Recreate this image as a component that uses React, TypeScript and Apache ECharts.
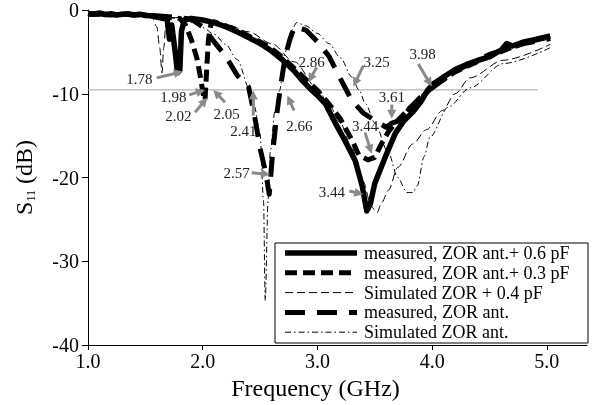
import React, { useEffect, useRef } from "react";
import * as echarts from "echarts";

const FONT = '"Liberation Serif", "Times New Roman", Times, serif';

const seriesNames = [
  "measured, ZOR ant.+ 0.6 pF",
  "measured, ZOR ant.+ 0.3 pF",
  "Simulated ZOR + 0.4 pF",
  "measured, ZOR ant.",
  "Simulated ZOR ant.",
];

const measured06: [number, number][] = [
  [1.0, -0.4], [1.05, -0.5], [1.1, -0.35], [1.15, -0.55], [1.2, -0.45], [1.25, -0.6], [1.3, -0.5],
  [1.35, -0.45], [1.4, -0.6], [1.45, -0.5], [1.5, -0.65], [1.55, -0.7], [1.6, -0.85], [1.65, -1.0],
  [1.69, -1.1], [1.71, -3.5], [1.73, -1.8], [1.76, -5.0], [1.78, -7.5], [1.8, -7.2], [1.815, -2.5],
  [1.84, -1.2], [1.9, -1.0], [2.0, -1.2], [2.1, -1.5], [2.2, -2.0], [2.3, -2.6], [2.4, -3.3],
  [2.5, -4.0], [2.6, -4.9], [2.7, -6.0], [2.8, -7.3], [2.86, -8.3], [2.93, -9.3], [3.0, -10.2],
  [3.07, -11.2], [3.16, -13.6], [3.24, -15.6], [3.33, -18.0], [3.39, -21.0], [3.43, -24.0],
  [3.46, -23.2], [3.5, -20.7], [3.59, -17.6], [3.68, -14.7], [3.75, -13.3], [3.83, -12.2],
  [3.9, -11.0], [3.96, -9.6], [4.01, -8.8], [4.1, -8.0], [4.2, -7.1], [4.3, -6.5], [4.4, -6.0],
  [4.5, -5.6], [4.6, -4.8], [4.65, -4.0], [4.7, -4.3], [4.8, -3.8], [4.9, -3.5], [5.03, -3.1],
];

const measured03: [number, number][] = [
  [1.0, -0.5], [1.1, -0.5], [1.2, -0.6], [1.3, -0.5], [1.4, -0.6], [1.5, -0.6], [1.6, -0.8],
  [1.7, -0.9], [1.8, -1.0], [1.85, -1.8], [1.9, -3.5], [1.95, -5.8], [1.98, -8.0], [2.01, -10.5],
  [2.02, -10.8], [2.035, -7.0], [2.05, -3.5], [2.07, -1.8], [2.1, -1.4], [2.2, -1.9], [2.3, -2.4],
  [2.4, -3.1], [2.5, -3.8], [2.6, -4.6], [2.7, -5.7], [2.8, -7.0], [2.9, -8.3], [3.0, -9.6],
  [3.1, -11.2], [3.2, -13.0], [3.3, -15.5], [3.36, -17.3], [3.44, -17.9], [3.5, -17.6],
  [3.55, -16.2], [3.62, -14.5], [3.7, -13.2], [3.8, -11.8], [3.9, -10.6], [4.0, -9.2],
  [4.2, -7.4], [4.5, -5.5], [4.8, -3.9], [5.03, -3.2],
];

const simulated04: [number, number][] = [
  [1.0, -0.3], [1.2, -0.35], [1.4, -0.45], [1.5, -0.6], [1.56, -0.9], [1.6, -2.0], [1.625, -4.5],
  [1.645, -7.5], [1.66, -4.5], [1.68, -1.5], [1.72, -0.9], [1.8, -0.9], [2.0, -1.2], [2.2, -1.7],
  [2.4, -2.6], [2.6, -4.0], [2.8, -6.2], [3.0, -9.4], [3.1, -11.3], [3.2, -13.5], [3.3, -16.5],
  [3.4, -20.5], [3.47, -23.5], [3.52, -24.2], [3.56, -23.0], [3.62, -21.5], [3.7, -18.8],
  [3.83, -16.0], [3.95, -14.3], [4.09, -12.0], [4.2, -10.0], [4.33, -8.1], [4.62, -6.0], [5.03, -4.1],
];

const measuredZor: [number, number][] = [
  [1.0, -0.45], [1.2, -0.5], [1.4, -0.55], [1.6, -0.7], [1.8, -0.9], [1.9, -1.1], [2.0, -2.0],
  [2.1, -3.8], [2.2, -5.5], [2.3, -7.8], [2.4, -9.2], [2.45, -12.5], [2.5, -16.5], [2.55, -19.5],
  [2.58, -22.0], [2.61, -17.0], [2.65, -12.0], [2.68, -9.0], [2.72, -5.5], [2.76, -3.5], [2.8, -2.0],
  [2.9, -2.4], [3.0, -3.8], [3.1, -5.5], [3.2, -8.2], [3.3, -10.8], [3.4, -12.3], [3.5, -13.2],
  [3.6, -14.0], [3.65, -13.5], [3.72, -13.2], [3.8, -11.8], [3.9, -10.4], [4.0, -9.3], [4.2, -7.3],
  [4.5, -5.3], [4.8, -4.0], [5.03, -3.4],
];

const simulatedZor: [number, number][] = [
  [1.0, -0.3], [1.2, -0.35], [1.4, -0.45], [1.6, -0.7], [1.7, -0.9], [1.8, -1.1], [1.9, -1.5],
  [2.0, -2.1], [2.1, -2.9], [2.2, -4.1], [2.3, -5.9], [2.41, -9.5], [2.45, -11.5], [2.5, -14.8],
  [2.53, -22.7], [2.545, -34.7], [2.57, -22.7], [2.59, -16.8], [2.63, -12.0], [2.67, -9.6],
  [2.72, -5.0], [2.77, -2.5], [2.82, -1.5], [2.9, -1.9], [3.0, -2.8], [3.1, -4.0], [3.2, -5.7],
  [3.3, -8.0], [3.36, -9.5], [3.42, -11.2], [3.5, -13.5], [3.62, -17.1], [3.7, -20.0], [3.78, -21.8],
  [3.83, -21.8], [3.87, -21.0], [3.93, -17.5], [3.98, -15.2], [4.14, -11.6], [4.33, -9.3],
  [4.62, -6.4], [5.03, -4.5],
];

const xTicks = [1, 2, 3, 4, 5];
const refLevel = -9.54;
const refLine: [number, number][] = [[1.0, refLevel], [4.92, refLevel]];

type Pt = [number, number];
type Ann = { label: string; text: Pt; tail: Pt; tip: Pt };
const annotations: Ann[] = [
  { label: "1.78", text: [1.447, -8.22], tail: [1.599, -8.1], tip: [1.826, -7.35] },
  { label: "1.98", text: [1.744, -10.42], tail: [1.883, -10.13], tip: [2.02, -9.54] },
  { label: "2.02", text: [1.787, -12.6], tail: [1.933, -12.2], tip: [2.04, -10.49] },
  { label: "2.05", text: [2.209, -12.4], tail: [2.194, -11.01], tip: [2.092, -9.54] },
  { label: "2.41", text: [2.354, -14.39], tail: [2.441, -12.6], tip: [2.441, -9.62] },
  { label: "2.66", text: [2.842, -13.91], tail: [2.796, -12.0], tip: [2.738, -10.21] },
  { label: "2.57", text: [2.296, -19.43], tail: [2.427, -19.43], tip: [2.587, -19.63] },
  { label: "2.86", text: [2.95, -6.25], tail: [2.994, -6.84], tip: [2.921, -8.63] },
  { label: "3.25", text: [3.517, -6.25], tail: [3.4, -6.64], tip: [3.313, -9.14] },
  { label: "3.98", text: [3.918, -5.24], tail: [3.88, -6.44], tip: [3.997, -9.14] },
  { label: "3.61", text: [3.648, -10.42], tail: [3.648, -11.29], tip: [3.648, -12.99] },
  { label: "3.44", text: [3.415, -13.91], tail: [3.415, -14.62], tip: [3.473, -17.16] },
  { label: "3.44", text: [3.125, -21.74], tail: [3.278, -21.62], tip: [3.4, -22.01] },
];

const lineStyles = [
  { width: 5.5, type: "solid" as any },
  { width: 5, type: [12, 6] as any },
  { width: 1, type: [8, 4] as any },
  { width: 5, type: [20, 12] as any },
  { width: 1, type: [6, 3, 1.5, 3] as any },
];

export default function App() {
  const ref = useRef<HTMLDivElement>(null);
  useEffect(() => {
    const chart = echarts.init(ref.current!, null, { renderer: "svg" });
    const datasets = [measured06, measured03, simulated04, measuredZor, simulatedZor];
    const drawOrder = [3, 1, 0, 2, 4];
    const series: any[] = [
      {
        type: "line",
        name: "ref",
        data: refLine,
        symbol: "none",
        silent: true,
        lineStyle: { color: "#a0a0a0", width: 1 },
        z: 1,
      },
    ];
    drawOrder.forEach((i) => {
      const thin = lineStyles[i].width < 2;
      series.push({
        type: "line",
        name: seriesNames[i],
        data: datasets[i],
        symbol: "none",
        smooth: thin ? 0.3 : false,
        smoothMonotone: "x",
        lineStyle: {
          color: "#000",
          width: lineStyles[i].width,
          type: lineStyles[i].type,
          cap: "butt",
          join: "round",
        },
        z: thin ? 4 : 3,
      });
    });

    chart.setOption({
      animation: false,
      grid: { left: 88, right: 6, top: 9, bottom: 60 },
      xAxis: {
        type: "value",
        min: 1,
        max: 5.35,
        interval: 1,
        axisLine: { onZero: false, lineStyle: { color: "#000", width: 1 } },
        axisTick: { show: true, customValues: xTicks, length: 5, lineStyle: { color: "#000" } },
        axisLabel: {
          customValues: xTicks,
          formatter: (v: number) => v.toFixed(1),
          fontSize: 20,
          fontFamily: FONT,
          color: "#000",
          margin: 6,
        },
        splitLine: { show: false },
        name: "Frequency (GHz)",
        nameLocation: "middle",
        nameGap: 31,
        nameTextStyle: { fontSize: 24, fontFamily: FONT, color: "#000", padding: [0, 44, 0, 0] },
      },
      yAxis: {
        type: "value",
        min: -40,
        max: 0,
        interval: 10,
        axisLine: { show: true, onZero: false, lineStyle: { color: "#000", width: 1 } },
        axisTick: { show: true, length: 6, lineStyle: { color: "#000" } },
        axisLabel: { fontSize: 20, fontFamily: FONT, color: "#000", margin: 9 },
        splitLine: { show: false },
        name: "{a|S}{b|11}{a| (dB)}",
        nameLocation: "middle",
        nameGap: 51,
        nameRotate: 90,
        nameTextStyle: {
          rich: {
            a: { fontSize: 24, fontFamily: FONT, color: "#000", lineHeight: 26 },
            b: { fontSize: 12, fontFamily: FONT, color: "#000", lineHeight: 12, verticalAlign: "bottom" },
          },
        },
      },
      series,
    });

    const toPx = (p: Pt) => chart.convertToPixel({ gridIndex: 0 }, p) as number[];
    const graphics: any[] = [];
    const arrowColor = "#8a8a8a";
    annotations.forEach((a) => {
      const t = toPx(a.text);
      const s = toPx(a.tail);
      const e = toPx(a.tip);
      const dx = e[0] - s[0];
      const dy = e[1] - s[1];
      const len = Math.sqrt(dx * dx + dy * dy) || 1;
      const ux = dx / len;
      const uy = dy / len;
      const L = 9;
      const W = 4.5;
      const bx = e[0] - ux * L;
      const by = e[1] - uy * L;
      graphics.push({
        type: "line",
        shape: { x1: s[0], y1: s[1], x2: bx + ux, y2: by + uy },
        style: { stroke: arrowColor, lineWidth: 3 },
        z: 50,
      });
      graphics.push({
        type: "polygon",
        shape: { points: [[e[0], e[1]], [bx - uy * W, by + ux * W], [bx + uy * W, by - ux * W]] },
        style: { fill: arrowColor },
        z: 50,
      });
      graphics.push({
        type: "text",
        x: t[0],
        y: t[1],
        style: {
          text: a.label,
          fontSize: 15,
          fontFamily: FONT,
          fill: "#222",
          align: "center",
          verticalAlign: "middle",
        },
        z: 51,
      });
    });

    // legend box
    const lx = 275, ly = 243, lw = 313, lh = 100;
    graphics.push({
      type: "rect",
      shape: { x: lx, y: ly, width: lw, height: lh },
      style: { fill: "#fff", stroke: "#000", lineWidth: 1 },
      z: 60,
    });
    seriesNames.forEach((name, i) => {
      const cy = ly + 10 + i * 19.8;
      const st = lineStyles[i];
      graphics.push({
        type: "line",
        shape: { x1: lx + 10, y1: cy, x2: lx + 82, y2: cy },
        style: {
          stroke: "#000",
          lineWidth: st.width,
          lineDash: Array.isArray(st.type) ? st.type : null,
        },
        z: 61,
      });
      graphics.push({
        type: "text",
        x: lx + 89,
        y: cy,
        style: {
          text: name,
          fontSize: 18,
          fontFamily: FONT,
          fill: "#000",
          align: "left",
          verticalAlign: "middle",
        },
        z: 61,
      });
    });

    chart.setOption({ graphic: graphics });
    return () => chart.dispose();
  }, []);
  return <div ref={ref} style={{ position: "fixed", left: 0, top: 0, width: 593, height: 405 }} />;
}
